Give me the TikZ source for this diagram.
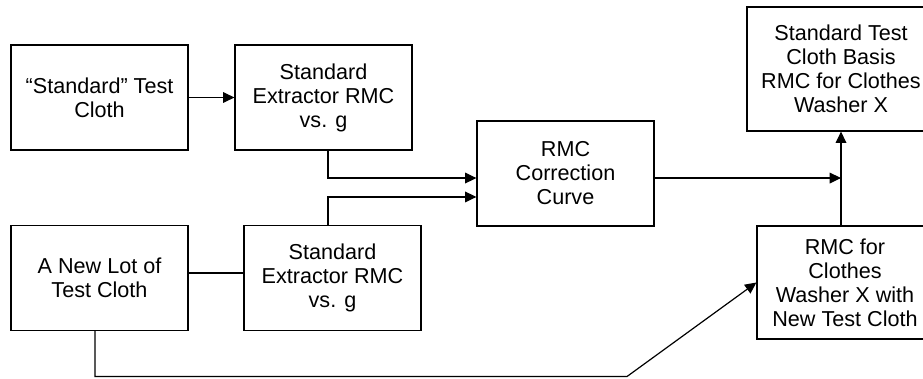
\documentclass[tikz,border=0pt]{standalone}
\usepackage{fontspec}
\setmainfont{Liberation Sans}
\usepackage{tikz}
\usetikzlibrary{arrows.meta}

\begin{document}
\begin{tikzpicture}[x=0.75pt,y=-0.75pt,
		box/.style={draw,line width=0.9pt,align=center,inner sep=0pt,
			minimum width=132.75pt,minimum height=78.75pt,
			font=\fontsize{16.2}{18}\selectfont},
		arr/.style={-{Triangle[length=8.5pt,width=8pt]},line width=0.9pt}]
			\useasboundingbox (0,0) rectangle (923,378);
			\node[box] (std) at (99.5,97.5) {“Standard” Test\\Cloth};
			\node[box] (extA) at (323.5,97.5) {Standard\\Extractor RMC\\vs. g};
			\node[box] (newlot) at (99.5,278) {A New Lot of\\Test Cloth};
			\node[box] (extB) at (332.5,278) {Standard\\Extractor RMC\\vs. g};
			\node[box] (corr) at (565.5,173.5) {RMC\\Correction\\Curve};
			\node[box,minimum width=141pt,minimum height=93pt] (basis) at (841,69)
				{Standard Test\\Cloth Basis\\RMC for Clothes\\Washer X};
			\node[box,minimum width=132pt,minimum height=84.75pt] (washer) at (845,282.5)
				{RMC for\\Clothes\\Washer X with\\New Test Cloth};
			\coordinate (bend) at (627,376.5);
			\coordinate (out) at ([yshift=-3.4pt]corr.east);
			%
			\draw[arr] (std) -- (extA);
			\draw[arr] ([xshift=3.4pt]extA.south) |- ([yshift=-3.4pt]corr.west);
			\draw[arr] ([xshift=-3.4pt]extB.north) |- ([yshift=-17.6pt]corr.west);
			\draw[line width=0.9pt] ([yshift=3.75pt]newlot.east) -- ([yshift=3.75pt]extB.west);
			\draw[arr] ([xshift=-3.4pt]newlot.south) |- (bend) -- (washer.west);
			\draw[arr] (out) -- (out -| basis.south);
			\draw[arr] (washer.north -| basis.south) -- (basis.south);
		\end{tikzpicture}
\end{document}
